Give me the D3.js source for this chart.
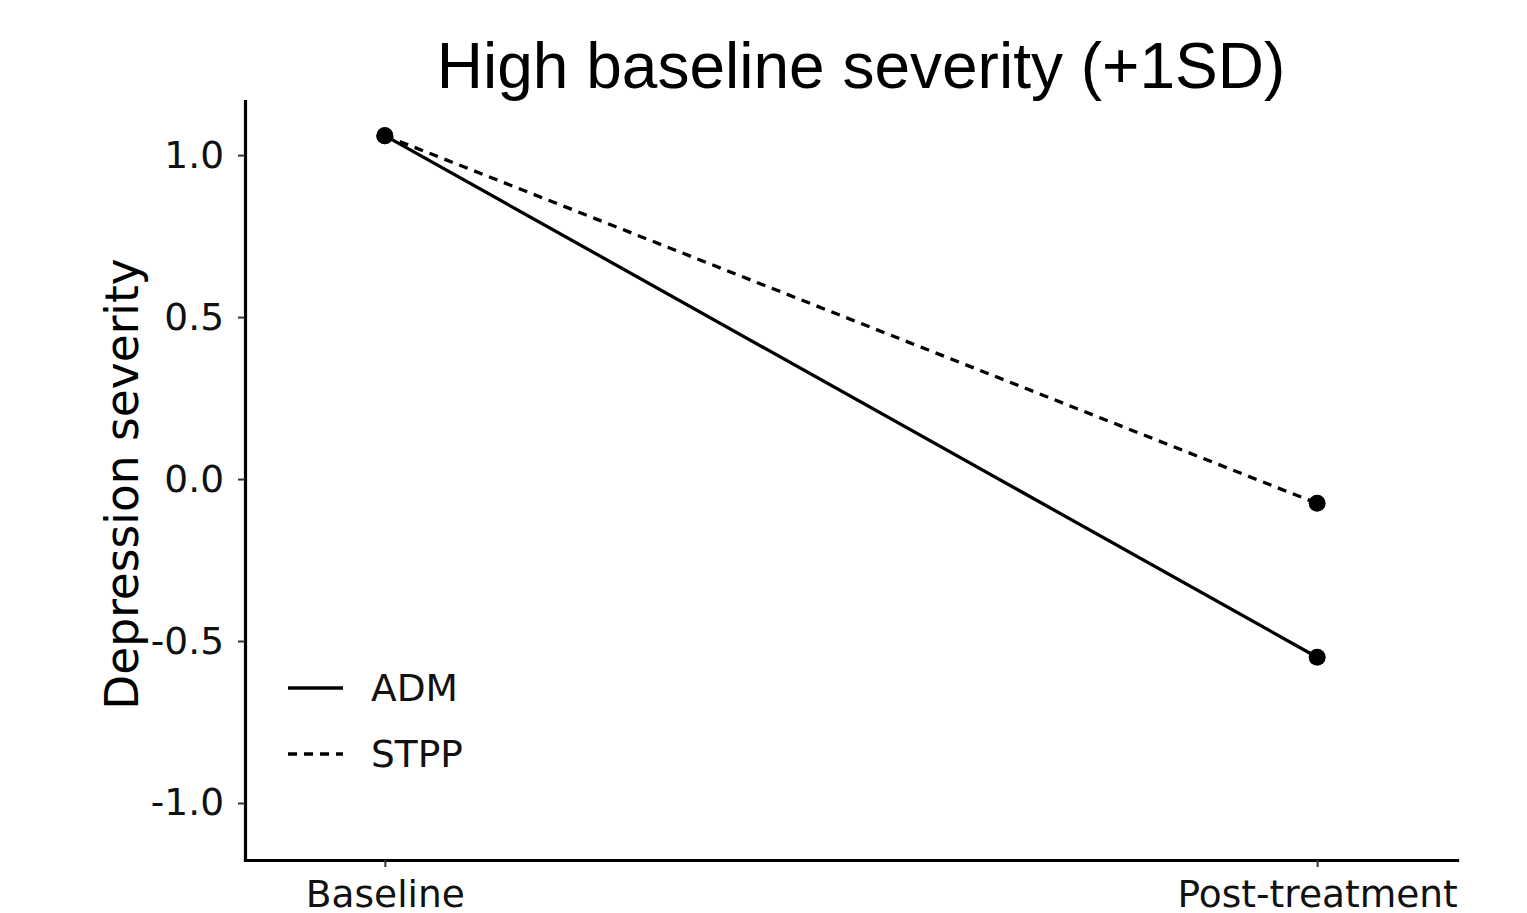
<!DOCTYPE html>
<html>
<head>
<meta charset="utf-8">
<script src="https://cdn.jsdelivr.net/npm/d3@7"></script>
<style>
  html, body { margin: 0; padding: 0; background: #fff; }
  svg { display: block; }
</style>
</head>
<body>
<svg id="chart" width="1527" height="913"></svg>
<script>
const categories = ["Baseline", "Post-treatment"];
const seriesNames = ["ADM", "STPP"];
const admValues = [1.06, -0.55];
const stppValues = [1.06, -0.075];
const yTicks = [-1.0, -0.5, 0.0, 0.5, 1.0];
const titleText = "High baseline severity (+1SD)";
const yLabel = "Depression severity";

(function () {
const svg = d3.select("#chart");
const W = 1527, H = 913;
const mLeft = 245, mRight = 1457, mTop = 101, mBottom = 860;

const x = d3.scalePoint().domain(categories).range([mLeft, mRight]).padding(0.15);
const y = d3.scaleLinear().domain([-1.176, 1.167]).range([mBottom, mTop]);

svg.append("rect").attr("width", W).attr("height", H).attr("fill", "#fff");

// axes
const yAxis = d3.axisLeft(y).tickValues(yTicks).tickFormat(d => d.toFixed(1))
  .tickSize(7).tickSizeOuter(0).tickPadding(14);
const gy = svg.append("g").attr("transform", `translate(${mLeft},0)`).call(yAxis);
gy.select(".domain").attr("stroke", "#000").attr("stroke-width", 3.2).attr("stroke-linecap", "square");
gy.selectAll(".tick line").attr("stroke", "#333").attr("stroke-width", 2);
gy.selectAll(".tick text").attr("font-family", "DejaVu Sans").attr("font-size", 37.5).attr("fill", "#111");

const xAxis = d3.axisBottom(x).tickSize(7).tickSizeOuter(0).tickPadding(13);
const gx = svg.append("g").attr("transform", `translate(0,${mBottom})`).call(xAxis);
gx.select(".domain").attr("stroke", "#000").attr("stroke-width", 3.2).attr("stroke-linecap", "square");
gx.selectAll(".tick line").attr("stroke", "#333").attr("stroke-width", 2);
gx.selectAll(".tick text").attr("font-family", "DejaVu Sans").attr("font-size", 37.5).attr("fill", "#111");

// series
const series = [
  { name: seriesNames[0], values: admValues, dash: null },
  { name: seriesNames[1], values: stppValues, dash: "9,7" }
];
const line = d3.line().x(d => x(d.cat)).y(d => y(d.v));

series.forEach(s => {
  const pts = categories.map((c, i) => ({ cat: c, v: s.values[i] }));
  svg.append("path").datum(pts)
    .attr("d", line).attr("fill", "none").attr("stroke", "#000")
    .attr("stroke-width", 3.3)
    .attr("stroke-dasharray", s.dash);
  svg.selectAll(null).data(pts).enter().append("circle")
    .attr("cx", d => x(d.cat)).attr("cy", d => y(d.v)).attr("r", 8.5).attr("fill", "#000");
});

// legend
const legend = svg.append("g").attr("transform", "translate(288,688)");
series.forEach((s, i) => {
  const g = legend.append("g").attr("transform", `translate(0,${i * 66})`);
  g.append("line").attr("x1", 0).attr("x2", 55).attr("y1", 0).attr("y2", 0)
    .attr("stroke", "#000").attr("stroke-width", 3.3).attr("stroke-dasharray", s.dash);
  g.append("text").attr("x", 83).attr("y", 13).text(s.name)
    .attr("font-family", "DejaVu Sans").attr("font-size", 37.5).attr("fill", "#111");
});

// title
svg.append("text").attr("x", 861).attr("y", 88).attr("text-anchor", "middle")
  .attr("font-family", "Liberation Sans, Arial, sans-serif").attr("font-size", 64)
  .attr("fill", "#000").text(titleText);

// y label
svg.append("text").attr("transform", "translate(138,484) rotate(-90)")
  .attr("text-anchor", "middle").attr("font-family", "DejaVu Sans")
  .attr("font-size", 45.5).attr("fill", "#000").text(yLabel);
})();
</script>
</body>
</html>
